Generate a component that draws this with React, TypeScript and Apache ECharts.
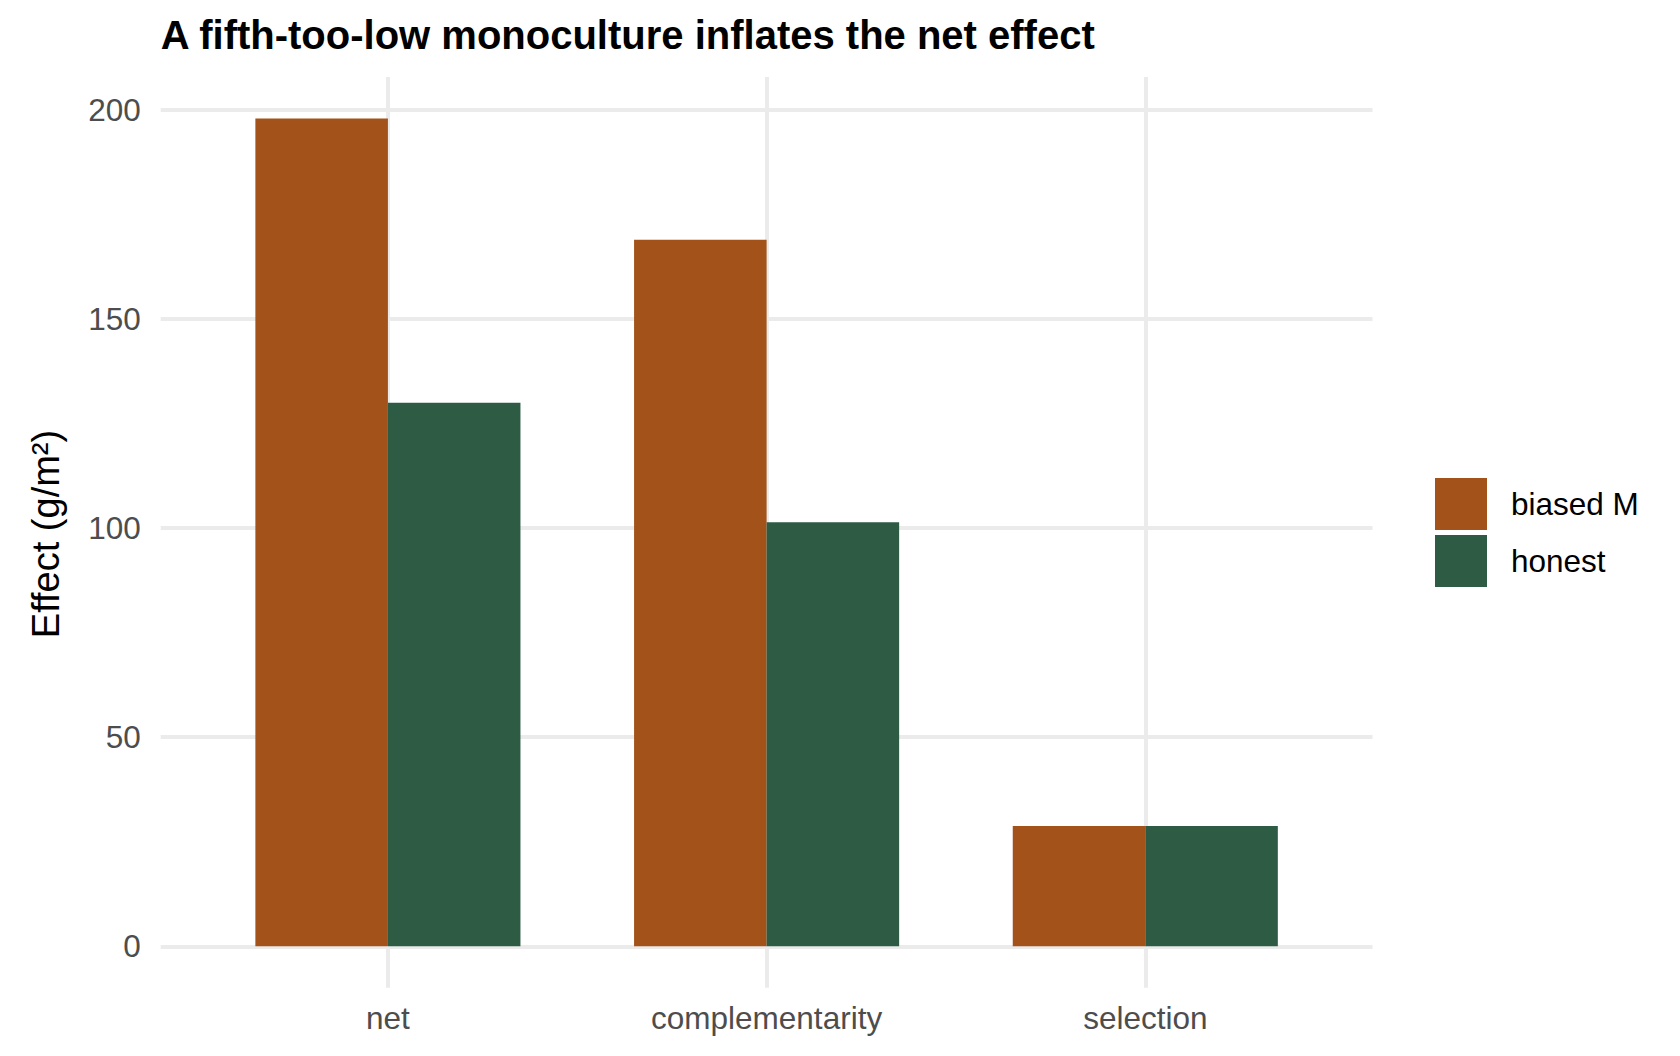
import React, { useEffect, useRef } from "react";
import * as echarts from "echarts";

const categories = ["net", "complementarity", "selection"];
const biasedM = [198, 169, 28.8];
const honest = [130, 101.4, 28.8];
const yTicks = [0, 50, 100, 150, 200];
const seriesNames = ["biased M", "honest"];
const colors = ["#A3521A", "#2E5B43"];

const FONT = "'Liberation Sans', Arial, Helvetica, sans-serif";

export default function App() {
  const ref = useRef<HTMLDivElement>(null);

  useEffect(() => {
    if (!ref.current) return;
    const chart = echarts.init(ref.current, undefined, { renderer: "svg" });

    // ggplot-like expansion of the continuous y scale (5% each side)
    const dataMax = Math.max(...biasedM, ...honest);
    const yMin = -0.05 * dataMax;
    const yMax = dataMax * 1.05;

    // panel geometry
    const panelLeft = 160.7;
    const panelWidth = 1211.8;
    const panelTop = 77;
    const panelHeight = 910.7;
    const unit = panelWidth / 3.2; // discrete scale with 0.6 expansion
    const barGridLeft = panelLeft + 0.1 * unit;
    const barGridWidth = 3 * unit;

    const gridLine = { color: "#EBEBEB", width: 4 };

    chart.setOption({
      animation: false,
      backgroundColor: "#FFFFFF",
      textStyle: { fontFamily: FONT },
      title: {
        text: "A fifth-too-low monoculture inflates the net effect",
        left: panelLeft,
        top: 15,
        padding: 0,
        textStyle: { fontSize: 40, fontWeight: "bold", color: "#000000", fontFamily: FONT },
      },
      legend: {
        data: seriesNames,
        orient: "vertical",
        left: 1435,
        top: 478,
        padding: 0,
        itemWidth: 52,
        itemHeight: 52,
        itemGap: 5,
        icon: "rect",
        textStyle: { fontSize: 31.5, color: "#000000", fontFamily: FONT, padding: [0, 0, 0, 19] },
      },
      grid: [
        { left: barGridLeft, width: barGridWidth, top: panelTop, height: panelHeight, outerBoundsMode: "none" },
        { left: panelLeft, width: panelWidth, top: panelTop, height: panelHeight, outerBoundsMode: "none" },
      ],
      xAxis: [
        {
          type: "category",
          gridIndex: 0,
          data: categories,
          axisLine: { show: false },
          axisTick: { show: false },
          splitLine: { show: false },
          axisLabel: { color: "#4D4D4D", fontSize: 31.5, margin: 14, fontFamily: FONT },
        },
        {
          type: "value",
          gridIndex: 1,
          min: 0.4,
          max: 3.6,
          axisLine: { show: false },
          axisTick: { show: false, customValues: [1, 2, 3] },
          axisLabel: { show: false, customValues: [1, 2, 3] },
          splitLine: { show: true, lineStyle: gridLine },
        },
      ],
      yAxis: [
        {
          type: "value",
          gridIndex: 0,
          min: yMin,
          max: yMax,
          show: false,
          splitLine: { show: false },
        },
        {
          type: "value",
          gridIndex: 1,
          min: yMin,
          max: yMax,
          axisLine: { show: false },
          axisTick: { show: false, customValues: yTicks },
          axisLabel: {
            customValues: yTicks,
            color: "#4D4D4D",
            fontSize: 31.5,
            margin: 20,
            fontFamily: FONT,
          },
          splitLine: { show: true, lineStyle: gridLine },
        },
      ],
      graphic: [
        {
          type: "text",
          x: 46,
          y: 534,
          rotation: Math.PI / 2,
          style: {
            text: "Effect (g/m²)",
            fontSize: 38,
            fontFamily: FONT,
            fill: "#000000",
            align: "center",
            verticalAlign: "middle",
          },
        },
      ],
      series: [
        {
          name: seriesNames[0],
          type: "bar",
          xAxisIndex: 0,
          yAxisIndex: 0,
          data: biasedM,
          barWidth: "35%",
          barGap: "0%",
          itemStyle: { color: colors[0] },
        },
        {
          name: seriesNames[1],
          type: "bar",
          xAxisIndex: 0,
          yAxisIndex: 0,
          data: honest,
          barWidth: "35%",
          barGap: "0%",
          itemStyle: { color: colors[1] },
        },
      ],
    });

    return () => chart.dispose();
  }, []);

  return (
    <div
      ref={ref}
      style={{ position: "fixed", left: 0, top: 0, width: 1680, height: 1056 }}
    />
  );
}
